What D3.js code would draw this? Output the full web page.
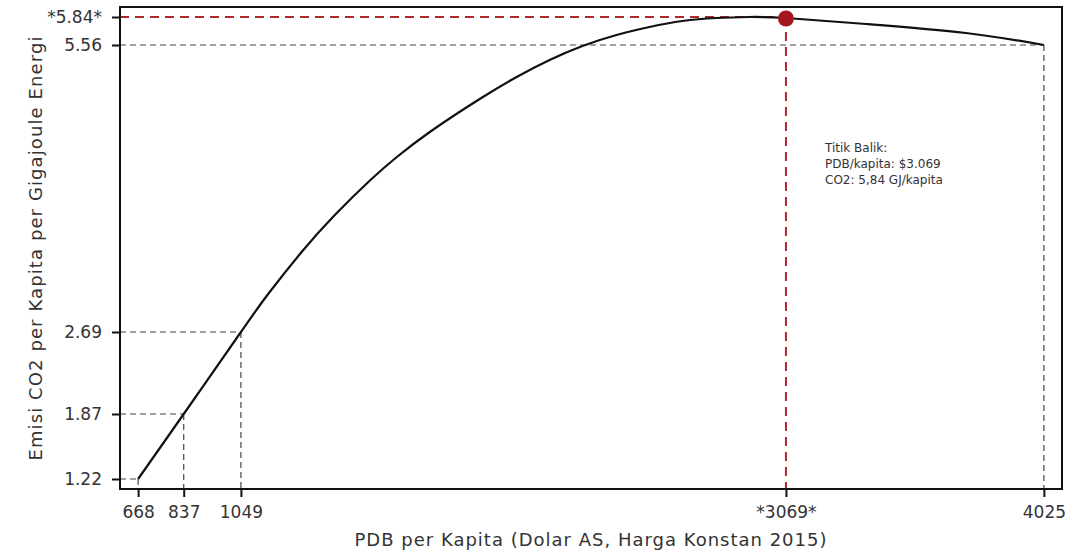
<!DOCTYPE html>
<html>
<head>
<meta charset="utf-8">
<script src="https://cdn.jsdelivr.net/npm/d3@7"></script>
<style>
  body { margin: 0; background: #fff; }
  svg { display: block; font-family: "DejaVu Sans", "Open Sans", sans-serif; }
</style>
</head>
<body>
<svg id="chart" width="1091" height="553"></svg>
<script>
// Curve
const gdp = [668, 837, 1049, 1150, 1274, 1397, 1533, 1627, 1749, 1934, 2071, 2193, 2315, 2441, 2563, 2685, 2811, 2933, 3069, 3366, 3736, 4025];
const co2 = [1.22, 1.87, 2.69, 3.07, 3.49, 3.86, 4.22, 4.44, 4.69, 5.02, 5.24, 5.41, 5.55, 5.66, 5.74, 5.80, 5.83, 5.84, 5.83, 5.77, 5.68, 5.56];

// Reference points (dashed guides)
const refX = [668, 837, 1049, 4025];
const refY = [1.22, 1.87, 2.69, 5.56];

// Turning point
const turnX = 3069;
const turnY = 5.84;

const xTickValues = [668, 837, 1049, 3069, 4025];
const xTickLabels = ["668", "837", "1049", "*3069*", "4025"];
const yTickValues = [1.22, 1.87, 2.69, 5.56, 5.84];
const yTickLabels = ["1.22", "1.87", "2.69", "5.56", "*5.84*"];

const annotation = ["Titik Balik:", "PDB/kapita: $3.069", "CO2: 5,84 GJ/kapita"];
const xTitle = "PDB per Kapita (Dolar AS, Harga Konstan 2015)";
const yTitle = "Emisi CO2 per Kapita per Gigajoule Energi";

const svg = d3.select("#chart");
const pLeft = 120, pRight = 1062, pTop = 7, pBottom = 489;

const xPad = (4025 - 668) * 0.02;
const x = d3.scaleLinear().domain([668 - xPad, 4025 + xPad]).range([pLeft, pRight]);
const y = d3.scaleLinear().domain([1.12, 5.94]).range([pBottom, pTop]);

const textColor = "#333";
const red = "#b0282f";

// dashed grey guides
const g = svg.append("g");
refX.forEach((xv, i) => {
  const yv = refY[i];
  g.append("line")
    .attr("x1", pLeft).attr("x2", x(xv))
    .attr("y1", y(yv)).attr("y2", y(yv))
    .attr("stroke", "#444").attr("stroke-width", 1.2)
    .attr("stroke-dasharray", "6,4");
  g.append("line")
    .attr("x1", x(xv)).attr("x2", x(xv))
    .attr("y1", y(yv)).attr("y2", pBottom)
    .attr("stroke", "#444").attr("stroke-width", 1.2)
    .attr("stroke-dasharray", "6,4");
});

// red turning guides
g.append("line")
  .attr("x1", pLeft).attr("x2", x(turnX))
  .attr("y1", y(turnY)).attr("y2", y(turnY))
  .attr("stroke", red).attr("stroke-width", 2)
  .attr("stroke-dasharray", "9,6");
g.append("line")
  .attr("x1", x(turnX)).attr("x2", x(turnX))
  .attr("y1", y(turnY)).attr("y2", pBottom)
  .attr("stroke", red).attr("stroke-width", 2)
  .attr("stroke-dasharray", "9,6");

// curve
const pts = gdp.map((d, i) => [d, co2[i]]);
const line = d3.line().x(d => x(d[0])).y(d => y(d[1])).curve(d3.curveNatural);
svg.append("path")
  .datum(pts)
  .attr("d", line)
  .attr("fill", "none")
  .attr("stroke", "#111")
  .attr("stroke-width", 2.2);

// turning point dot
svg.append("circle")
  .attr("cx", x(turnX)).attr("cy", y(turnY) + 1.5)
  .attr("r", 8)
  .attr("fill", "#a3181f");

// frame
svg.append("rect")
  .attr("x", pLeft).attr("y", pTop)
  .attr("width", pRight - pLeft).attr("height", pBottom - pTop)
  .attr("fill", "none").attr("stroke", "#111").attr("stroke-width", 2);

// axes
const xAxis = d3.axisBottom(x)
  .tickValues(xTickValues)
  .tickFormat((d, i) => xTickLabels[i])
  .tickSize(8).tickPadding(9);
const gx = svg.append("g").attr("transform", `translate(0,${pBottom})`).call(xAxis);
gx.select(".domain").remove();
gx.selectAll(".tick line").attr("stroke", "#111").attr("stroke-width", 2);
gx.selectAll(".tick text").attr("fill", textColor).attr("font-size", 17)
  .attr("font-family", "DejaVu Sans");

const yAxis = d3.axisLeft(y)
  .tickValues(yTickValues)
  .tickFormat((d, i) => yTickLabels[i])
  .tickSize(8).tickPadding(10);
const gy = svg.append("g").attr("transform", `translate(${pLeft},0)`).call(yAxis);
gy.select(".domain").remove();
gy.selectAll(".tick line").attr("stroke", "#111").attr("stroke-width", 2);
gy.selectAll(".tick text").attr("fill", textColor).attr("font-size", 17)
  .attr("font-family", "DejaVu Sans");

// annotation
const ann = svg.append("text")
  .attr("x", 825).attr("y", 152)
  .attr("fill", textColor).attr("font-size", 12);
annotation.forEach((t, i) => {
  ann.append("tspan").attr("x", 825).attr("dy", i === 0 ? 0 : 16).text(t);
});

// axis titles
svg.append("text")
  .attr("x", 591).attr("y", 546)
  .attr("text-anchor", "middle")
  .attr("fill", textColor).attr("font-size", 18)
  .attr("letter-spacing", 1)
  .text(xTitle);

svg.append("text")
  .attr("transform", "translate(42,248) rotate(-90)")
  .attr("text-anchor", "middle")
  .attr("fill", textColor).attr("font-size", 18)
  .attr("letter-spacing", 1.1)
  .text(yTitle);
</script>
</body>
</html>
